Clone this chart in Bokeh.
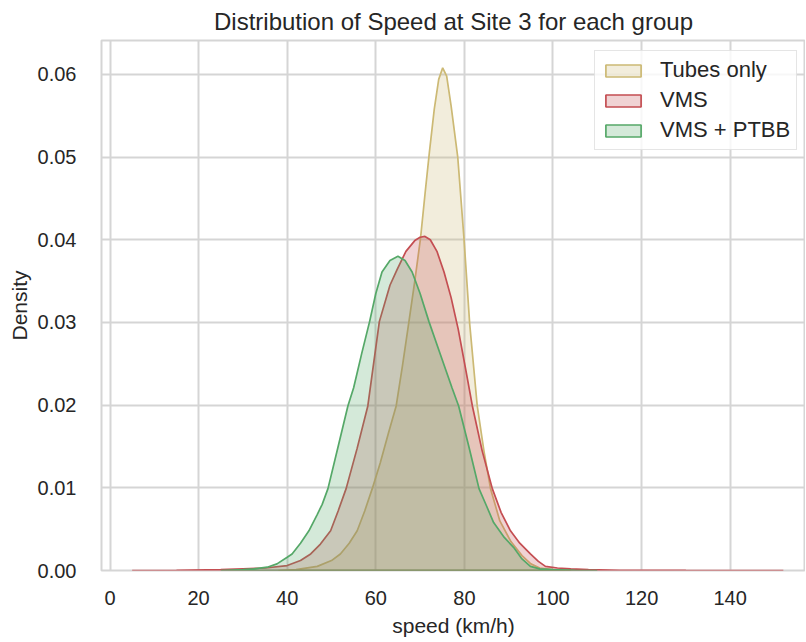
from bokeh.plotting import figure
from bokeh.models import Range1d, FixedTicker, PrintfTickFormatter, Legend, LegendItem
from bokeh.embed import file_html
from bokeh.resources import INLINE

title_text = "Distribution of Speed at Site 3 for each group"
x_label = "speed (km/h)"
y_label = "Density"
groups = ["Tubes only", "VMS", "VMS + PTBB"]
colors = ["#ccb974", "#c44e52", "#55a868"]

tubes_speed = [38, 42, 46.8, 50, 52, 54, 55.8, 57.5, 59.2, 61, 62.8, 64.6, 66, 67.4, 68.8, 70.1,
               71.1, 72.1, 73.2, 74.2, 75.1, 76.0, 77.0, 78.5, 79.9, 81.2, 82.9, 84.4, 85.9, 88,
               90.5, 93, 95, 97, 100, 104]
tubes_density = [0, 0.0001, 0.0005, 0.0012, 0.002, 0.0033, 0.0048, 0.0072, 0.0099, 0.0130, 0.0165,
                 0.0199, 0.0247, 0.0298, 0.0350, 0.0402, 0.0455, 0.0506, 0.0558, 0.0594, 0.0608,
                 0.0598, 0.0562, 0.0500, 0.0402, 0.0298, 0.0199, 0.0145, 0.0099, 0.0060, 0.0035,
                 0.0018, 0.0008, 0.0003, 0.0001, 0]

vms_speed = [5, 15, 25, 30, 35, 40, 43, 45.3, 47.5, 49.8, 51.5, 53.3, 55.8, 58.2, 60.8, 63.2,
             64.8, 66.8, 68.8, 70.0, 71.1, 72.3, 73.8, 75.4, 77.0, 78.6, 80.2, 81.8, 84, 86.3,
             88.3, 90.4, 92.5, 94.9, 96.7, 98.3, 101, 104, 108, 115, 130, 152]
vms_density = [0, 0.00002, 0.0001, 0.0002, 0.0003, 0.0006, 0.0012, 0.002, 0.0032, 0.0048, 0.0072,
               0.0099, 0.0148, 0.0199, 0.0301, 0.0345, 0.0364, 0.0386, 0.0399, 0.0403, 0.0404,
               0.0400, 0.0386, 0.0361, 0.0330, 0.0292, 0.0246, 0.0199, 0.0145, 0.0099, 0.0070,
               0.0048, 0.0033, 0.0020, 0.0011, 0.0005, 0.0003, 0.0002, 0.0001, 0.00003, 0.00001, 0]

ptbb_speed = [25, 30, 32.4, 35.5, 37.7, 40, 41.1, 43, 44.9, 46.8, 47.9, 49.2, 51.5, 53.7, 55.0,
              56.8, 58.6, 60.0, 61.4, 63.2, 65.0, 66.6, 68.2, 70.0, 72.0, 74.6, 77.2, 78.7, 81,
              83.3, 85, 86.6, 89, 91.1, 93, 94.9, 97, 100, 105, 110]
ptbb_density = [0, 0.0001, 0.0002, 0.0004, 0.0008, 0.0016, 0.002, 0.0033, 0.0048, 0.0068, 0.008,
                0.0099, 0.0150, 0.0199, 0.0221, 0.0262, 0.0301, 0.0335, 0.0361, 0.0375, 0.0380,
                0.0375, 0.0361, 0.0335, 0.0301, 0.0261, 0.0221, 0.0199, 0.0150, 0.0099, 0.0078,
                0.0058, 0.0040, 0.0028, 0.0014, 0.0005, 0.0002, 0.0001, 0.00003, 0]

x_ticks = [0, 20, 40, 60, 80, 100, 120, 140]
y_ticks = [0.0, 0.01, 0.02, 0.03, 0.04, 0.05, 0.06]

FONT = "Liberation Sans"
TXT = "#262626"
GRID = "#d5d5d5"

p = figure(width=805, height=640, output_backend="svg", toolbar_location=None,
           x_range=Range1d(-1.92, 157.0), y_range=Range1d(0, 0.0641),
           min_border_left=101, min_border_right=0, min_border_top=38, min_border_bottom=70,
           background_fill_color="white", border_fill_color="white")

p.title.text = title_text
p.title.align = "center"
p.title.text_font = FONT
p.title.text_font_size = "24px"
p.title.text_font_style = "normal"
p.title.text_color = TXT
p.title.standoff = 11

p.outline_line_color = GRID
p.outline_line_width = 2

for ax in (p.xaxis, p.yaxis):
    ax.axis_line_color = None
    ax.major_tick_line_color = None
    ax.minor_tick_line_color = None
    ax.major_tick_out = 0
    ax.major_tick_in = 0
    ax.major_label_text_font = FONT
    ax.major_label_text_font_size = "20px"
    ax.major_label_text_color = TXT
    ax.axis_label_text_font = FONT
    ax.axis_label_text_font_size = "21px"
    ax.axis_label_text_font_style = "normal"
    ax.axis_label_text_color = TXT

p.xaxis.ticker = FixedTicker(ticks=x_ticks)
p.yaxis.ticker = FixedTicker(ticks=y_ticks)
p.yaxis.formatter = PrintfTickFormatter(format="%.2f")
p.xaxis.major_label_standoff = 20
p.yaxis.major_label_standoff = 25
p.xaxis.axis_label_standoff = 6
p.yaxis.axis_label_standoff = 4
p.xaxis.axis_label = x_label
p.yaxis.axis_label = y_label

p.xgrid.grid_line_color = GRID
p.ygrid.grid_line_color = GRID
p.xgrid.grid_line_width = 2
p.ygrid.grid_line_width = 2

series = [(tubes_speed, tubes_density), (vms_speed, vms_density), (ptbb_speed, ptbb_density)]
items = []
for (xs, ys), name, c in zip(series, groups, colors):
    r = p.patch(xs, ys, fill_color=c, fill_alpha=0.25, line_color=c, line_width=1.7)
    items.append(LegendItem(label=name, renderers=[r]))

legend = Legend(items=items, location=(493, 420), label_text_font=FONT,
                label_text_font_size="22px", label_text_color=TXT,
                glyph_width=44, glyph_height=15, label_standoff=15, spacing=4,
                padding=6, border_line_color="#cccccc", border_line_width=1,
                background_fill_color="white", background_fill_alpha=0.8)
p.add_layout(legend)

open("out.html", "w").write(file_html(p, INLINE))
